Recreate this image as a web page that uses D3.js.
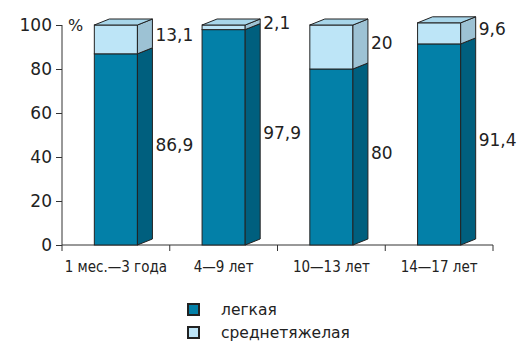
<!DOCTYPE html>
<html>
<head>
<meta charset="utf-8">
<script src="https://cdn.jsdelivr.net/npm/d3@7"></script>
<style>
  body { margin: 0; background: #fff; }
  svg text { fill: #222; }
</style>
</head>
<body>
<div id="chart"></div>
<script>
// Age groups and shares (%) of mild / moderate-severe forms
var categories = ['1 мес.\u20143 года', '4\u20149 лет', '10\u201413 лет', '14\u201417 лет'];
var mildValues = [86.9, 97.9, 80, 91.4];
var severeValues = [13.1, 2.1, 20, 9.6];
var mildLabels = ['86,9', '97,9', '80', '91,4'];
var severeLabels = ['13,1', '2,1', '20', '9,6'];
var yTicks = [0, 20, 40, 60, 80, 100];
var legendNames = ['легкая', 'среднетяжелая'];

var width = 522, height = 341;
var depthX = 15, depthY = 6;

var colors = {
  mild:   { front: '#0380a8', side: '#005f7e' },
  severe: { front: '#bde5f7', side: '#9dc2d4', top: '#a8d6ea' }
};

var svg = d3.select('#chart')
  .append('svg')
  .attr('width', width)
  .attr('height', height);

var x = d3.scaleBand()
  .domain(categories)
  .range([62, 493])
  .paddingInner(0.6)
  .paddingOuter(0.3);

var y = d3.scaleLinear()
  .domain([0, 100])
  .range([245, 25]);

var data = categories.map(function(c, i) {
  return { cat: c, mild: mildValues[i], severe: severeValues[i],
           mildLabel: mildLabels[i], severeLabel: severeLabels[i] };
});

// y axis
var yAxis = svg.append('g')
  .attr('transform', 'translate(62,0)')
  .call(d3.axisLeft(y).tickValues(yTicks).tickSize(6).tickPadding(4));
yAxis.select('.domain').attr('stroke', '#333').attr('d', 'M0,' + y(100) + 'V' + y(0));
yAxis.selectAll('.tick line').attr('stroke', '#333');
yAxis.selectAll('text')
  .style('font-family', '"DejaVu Sans", sans-serif')
  .style('font-size', '17px')
  .attr('fill', '#222');

svg.append('text')
  .attr('x', 68).attr('y', y(100))
  .attr('dy', '0.35em')
  .style('font-family', '"DejaVu Sans", sans-serif')
  .style('font-size', '16px')
  .text('%');

// x axis with ticks on band boundaries
var step = x.step();
var bounds = [x.range()[0]].concat(categories.map(function(c) {
  return x(c) + x.bandwidth() / 2 + step / 2;
}));
var xg = svg.append('g');
xg.append('line')
  .attr('x1', x.range()[0]).attr('x2', x.range()[1])
  .attr('y1', y(0)).attr('y2', y(0))
  .attr('stroke', '#333');
xg.selectAll('.xt').data(bounds).enter().append('line')
  .attr('x1', function(d) { return d; }).attr('x2', function(d) { return d; })
  .attr('y1', y(0)).attr('y2', y(0) + 6)
  .attr('stroke', '#333');
xg.selectAll('.xl').data(categories).enter().append('text')
  .attr('x', function(d) { return x(d) + x.bandwidth() / 2; })
  .attr('y', 267)
  .attr('dy', '0.35em')
  .attr('text-anchor', 'middle')
  .style('font-family', '"Liberation Sans Narrow", "DejaVu Sans Condensed", sans-serif')
  .style('font-size', '15px')
  .text(function(d) { return d; });

// 3D bars
function poly(pts) {
  return 'M' + pts.map(function(p) { return p.join(','); }).join('L') + 'Z';
}

var bars = svg.selectAll('.bar').data(data).enter().append('g').attr('class', 'bar');

bars.each(function(d) {
  var g = d3.select(this);
  var x0 = x(d.cat), x1 = x0 + x.bandwidth();
  var segs = [
    { v0: 0, v1: d.mild, c: colors.mild, label: d.mildLabel },
    { v0: d.mild, v1: d.mild + d.severe, c: colors.severe, label: d.severeLabel }
  ];
  segs.forEach(function(s) {
    var yt = y(s.v1), yb = y(s.v0);
    g.append('rect')
      .attr('x', x0).attr('y', yt)
      .attr('width', x1 - x0).attr('height', yb - yt)
      .attr('fill', s.c.front).attr('stroke', '#222').attr('stroke-width', 1);
    g.append('path')
      .attr('d', poly([[x1, yt], [x1 + depthX, yt - depthY], [x1 + depthX, yb - depthY], [x1, yb]]))
      .attr('fill', s.c.side).attr('stroke', '#222').attr('stroke-width', 1)
      .attr('stroke-linejoin', 'round');
    g.append('text')
      .attr('x', x1 + depthX + 3)
      .attr('y', (yt + yb) / 2 - depthY / 2 - 1)
      .attr('dy', '0.35em')
      .style('font-family', '"DejaVu Sans", sans-serif')
      .style('font-size', '17px')
      .text(s.label);
  });
  var ytop = y(d.mild + d.severe);
  g.append('path')
    .attr('d', poly([[x0, ytop], [x0 + depthX, ytop - depthY], [x1 + depthX, ytop - depthY], [x1, ytop]]))
    .attr('fill', colors.severe.top).attr('stroke', '#222').attr('stroke-width', 1)
    .attr('stroke-linejoin', 'round');
});

// legend
var legend = svg.append('g').attr('transform', 'translate(188,304)');
var legendFill = [colors.mild.front, colors.severe.front];
legendNames.forEach(function(name, i) {
  legend.append('rect')
    .attr('x', 0).attr('y', i * 23)
    .attr('width', 11).attr('height', 11)
    .attr('fill', legendFill[i])
    .attr('stroke', '#222').attr('stroke-width', 2);
  legend.append('text')
    .attr('x', 33).attr('y', i * 23 + 5.5)
    .attr('dy', '0.35em')
    .style('font-family', '"DejaVu Sans", sans-serif')
    .style('font-size', '15.5px')
    .text(name);
});
</script>
</body>
</html>
